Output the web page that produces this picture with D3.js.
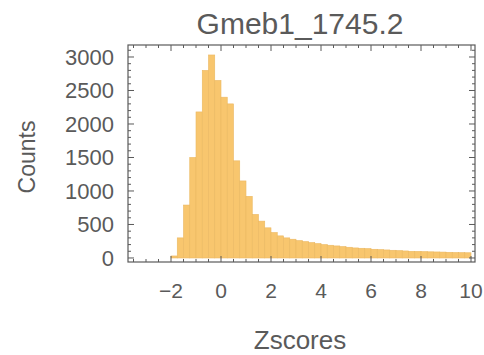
<!DOCTYPE html>
<html><head><meta charset="utf-8">
<script src="https://cdn.jsdelivr.net/npm/d3@7"></script>
<style>
html,body{margin:0;padding:0;background:#fff;}
svg{display:block;}
text{font-family:"Liberation Sans",Arial,Helvetica,sans-serif;fill:#5a5a5a;}
</style></head>
<body>
<script>
// Data: histogram bins (start of bin), width 0.25
const binStarts = d3.range(48).map(i => -2 + i * 0.25);
const binWidth = 0.25;
const counts = [30,300,790,1500,2180,2800,3030,2650,2400,2300,1450,1150,920,650,550,450,
  380,330,300,280,260,245,230,215,200,190,180,170,160,150,145,140,
  130,125,120,115,110,105,100,98,95,92,90,88,85,82,80,78];
const xTicks = [-2,0,2,4,6,8,10];
const yTicks = [0,500,1000,1500,2000,2500,3000];
const title = "Gmeb1_1745.2";
const xLabel = "Zscores";
const yLabel = "Counts";

const W = 484, H = 355;
const L = 128, R = 475, T = 45, B = 262;
const x = d3.scaleLinear().domain([-3.72, 10.16]).range([L, R]);
const y = d3.scaleLinear().domain([-60, 3179]).range([B, T]);

const svg = d3.select("body").append("svg").attr("width", W).attr("height", H);

// bars
svg.append("g").selectAll("rect").data(binStarts).join("rect")
  .attr("x", d => x(d))
  .attr("width", d => x(d + binWidth) - x(d))
  .attr("y", (d, i) => y(counts[i]))
  .attr("height", (d, i) => y(0) - y(counts[i]))
  .attr("fill", "#f8c66e")
  .attr("stroke", "#ecb862")
  .attr("stroke-width", 0.6);

// frame
svg.append("rect").attr("x", L).attr("y", T).attr("width", R - L).attr("height", B - T)
  .attr("fill", "none").attr("stroke", "#5a5a5a").attr("stroke-width", 1.2);

const tickG = svg.append("g").attr("stroke", "#5a5a5a").attr("stroke-width", 1);
const xMinor = d3.range(-3.5, 10.01, 0.5);
xMinor.forEach(v => {
  const major = Math.abs(v % 2) < 1e-9;
  const len = major ? 6 : 3;
  tickG.append("line").attr("x1", x(v)).attr("x2", x(v)).attr("y1", B).attr("y2", B - len);
  tickG.append("line").attr("x1", x(v)).attr("x2", x(v)).attr("y1", T).attr("y2", T + len);
});
const yMinor = d3.range(0, 3101, 100);
yMinor.forEach(v => {
  const major = v % 500 === 0;
  const len = major ? 6 : 3;
  tickG.append("line").attr("y1", y(v)).attr("y2", y(v)).attr("x1", L).attr("x2", L + len);
  tickG.append("line").attr("y1", y(v)).attr("y2", y(v)).attr("x1", R).attr("x2", R - len);
});

// tick labels
svg.append("g").selectAll("text").data(xTicks).join("text")
  .attr("x", d => x(d)).attr("y", 298)
  .attr("text-anchor", "middle").attr("font-size", 21)
  .text(d => d < 0 ? "\u2212" + Math.abs(d) : d);
svg.append("g").selectAll("text").data(yTicks).join("text")
  .attr("x", 114).attr("y", d => y(d) + 8)
  .attr("text-anchor", "end").attr("font-size", 22)
  .text(d => d);

// titles
svg.append("text").attr("x", 300).attr("y", 34).attr("text-anchor", "middle")
  .attr("font-size", 30).text(title);
svg.append("text").attr("x", 300).attr("y", 349).attr("text-anchor", "middle")
  .attr("font-size", 26).text(xLabel);
svg.append("text").attr("transform", "translate(35,157) rotate(-90)")
  .attr("text-anchor", "middle").attr("font-size", 23).text(yLabel);
</script>
</body></html>
